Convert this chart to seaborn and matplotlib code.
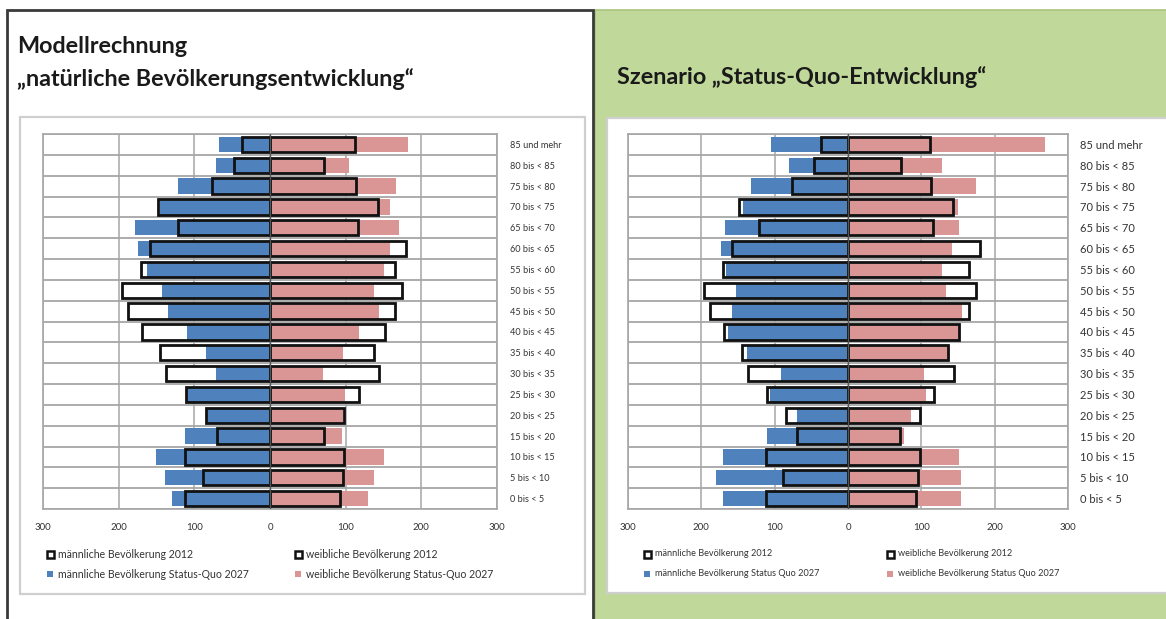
import matplotlib
matplotlib.use("Agg")
import matplotlib.pyplot as plt
from matplotlib.patches import Rectangle
import seaborn as sns

# Age groups, oldest at the top
age_groups = [
    "85 und mehr", "80 bis < 85", "75 bis < 80", "70 bis < 75", "65 bis < 70",
    "60 bis < 65", "55 bis < 60", "50 bis < 55", "45 bis < 50", "40 bis < 45",
    "35 bis < 40", "30 bis < 35", "25 bis < 30", "20 bis < 25", "15 bis < 20",
    "10 bis < 15", "5 bis < 10", "0 bis < 5",
]

# Population 2012 (same base year in both panels)
male_2012 = [37, 47, 77, 148, 122, 158, 170, 196, 188, 169, 145, 137, 111, 85, 70, 112, 88, 112]
female_2012 = [112, 72, 113, 143, 116, 180, 165, 175, 165, 152, 137, 144, 117, 98, 71, 98, 96, 93]

# Natural development, 2027
male_natural_2027 = [68, 72, 121, 146, 178, 174, 163, 143, 135, 110, 85, 72, 110, 85, 112, 151, 139, 130]
female_natural_2027 = [183, 105, 166, 158, 170, 159, 150, 137, 144, 118, 97, 70, 99, 97, 95, 150, 137, 130]

# Status-quo scenario, 2027
male_statusquo_2027 = [105, 81, 132, 143, 168, 173, 167, 153, 158, 164, 138, 91, 106, 69, 110, 171, 180, 170]
female_statusquo_2027 = [269, 128, 175, 150, 151, 142, 128, 134, 155, 153, 137, 104, 106, 86, 77, 151, 154, 154]

x_ticks = [-300, -200, -100, 0, 100, 200, 300]

BLUE = "#4F81BD"
PINK = "#D99694"
GREEN = "#C0D89A"
GRID = "#A6A6A6"

W, H = 1166, 619
sns.set_theme(style="white")
plt.rcParams["font.family"] = ["Lato", "DejaVu Sans"]

fig = plt.figure(figsize=(W / 100, H / 100), dpi=100)
fig.patch.set_facecolor("white")


def fx(px):
    return px / W


def fy(py):
    return 1 - py / H


def box(x0, y0, x1, y1, **kw):
    fig.patches.append(Rectangle((fx(x0), fy(y1)), fx(x1) - fx(x0), fy(y0) - fy(y1),
                                 transform=fig.transFigure, figure=fig, **kw))


def text(x, y, s, **kw):
    fig.text(fx(x), fy(y), s, **kw)


# Background panels
box(595, 10, 1172, 625, facecolor=GREEN, edgecolor="#A9C47F", linewidth=1.2, zorder=0)
box(7, 10, 593, 625, facecolor="white", edgecolor="#3A3A3A", linewidth=2.0, zorder=1)
box(20, 117, 585, 594, facecolor="white", edgecolor="#CFCFCF", linewidth=1.6, zorder=2)
box(607, 118, 1172, 593, facecolor="white", edgecolor="#CFCFCF", linewidth=1.6, zorder=2)


def add_bars(ax, values, **style):
    start = len(ax.patches)
    sns.barplot(x=values, y=age_groups, orient="h", color=BLUE, saturation=1,
                width=0.74, errorbar=None, ax=ax)
    for p in ax.patches[start:]:
        p.set(**style)


def pyramid(ax, male_2027, female_2027, cat_size, tick_size):
    neg = lambda v: [-a for a in v]
    # white base of the 2012 bars
    add_bars(ax, neg(male_2012), facecolor="white", edgecolor="none", zorder=2)
    add_bars(ax, female_2012, facecolor="white", edgecolor="none", zorder=2)
    # 2027 bars
    add_bars(ax, neg(male_2027), facecolor=BLUE, edgecolor="none", zorder=3)
    add_bars(ax, female_2027, facecolor=PINK, edgecolor="none", zorder=3)
    # 2012 outlines on top
    add_bars(ax, neg(male_2012), facecolor="none", edgecolor="#111111", linewidth=2.0, zorder=4)
    add_bars(ax, female_2012, facecolor="none", edgecolor="#111111", linewidth=2.0, zorder=4)

    ax.set_xlim(-300, 300)
    ax.set_ylim(len(age_groups) - 0.5, -0.5)
    ax.set_xticks(x_ticks)
    ax.set_xticklabels([str(abs(t)) for t in x_ticks], fontsize=tick_size, color="#333333")
    ax.yaxis.tick_right()
    ax.tick_params(axis="y", length=0, pad=9, labelsize=cat_size, labelcolor="#333333")
    ax.tick_params(axis="x", length=0, pad=10)
    ax.set_xlabel("")
    ax.set_ylabel("")
    for t in x_ticks:
        ax.axvline(t, color=GRID, linewidth=1.1, zorder=1)
    for k in range(len(age_groups) + 1):
        ax.axhline(k - 0.5, color=GRID, linewidth=1.3, zorder=1)
    ax.axvline(0, color="#555555", linewidth=1.0, zorder=5)
    for s in ax.spines.values():
        s.set_color(GRID)
        s.set_linewidth(1.2)
    ax.set_facecolor("white")


def legend(x_left, x_right, y_top, y_bot, texts, size):
    m12, w12, m27, w27 = texts
    for xm, lab in ((x_left, m12), (x_right, w12)):
        box(xm - 3, y_top - 3.5, xm + 4, y_top + 3.5, facecolor="white", edgecolor="#111111",
            linewidth=1.8, zorder=6)
        text(xm + 8, y_top, lab, fontsize=size, va="center", ha="left", color="#333333", zorder=6)
    for xm, lab, col in ((x_left, m27, BLUE), (x_right, w27, PINK)):
        box(xm - 3, y_bot - 3, xm + 3, y_bot + 3, facecolor=col, edgecolor="none", zorder=6)
        text(xm + 8, y_bot, lab, fontsize=size, va="center", ha="left", color="#333333", zorder=6)


ax_left = fig.add_axes([fx(43), fy(509), fx(497) - fx(43), fy(134) - fy(509)], zorder=3)
pyramid(ax_left, male_natural_2027, female_natural_2027, 6.6, 7.0)

ax_right = fig.add_axes([fx(628), fy(509), fx(1068) - fx(628), fy(134) - fy(509)], zorder=3)
pyramid(ax_right, male_statusquo_2027, female_statusquo_2027, 8.0, 7.0)

# Titles
TITLE_SIZE = 16.8
text(17, 53, "Modellrechnung", fontsize=TITLE_SIZE, fontweight="bold", color="#1A1A1A", va="baseline")
text(17, 86, "\u201enatürliche Bevölkerungsentwicklung\u201c", fontsize=TITLE_SIZE, fontweight="bold",
     color="#1A1A1A", va="baseline")
text(617, 84, "Szenario \u201eStatus-Quo-Entwicklung\u201c", fontsize=TITLE_SIZE, fontweight="bold",
     color="#1A1A1A", va="baseline")

legend(50, 298, 554, 574,
       ["männliche Bevölkerung 2012", "weibliche Bevölkerung 2012",
        "männliche Bevölkerung Status-Quo 2027", "weibliche Bevölkerung Status-Quo 2027"], 7.6)
legend(647, 890, 554, 574,
       ["männliche Bevölkerung 2012", "weibliche Bevölkerung 2012",
        "männliche Bevölkerung Status Quo 2027", "weibliche Bevölkerung Status Quo 2027"], 6.6)

fig.savefig("out.png", dpi=100, facecolor="white")
